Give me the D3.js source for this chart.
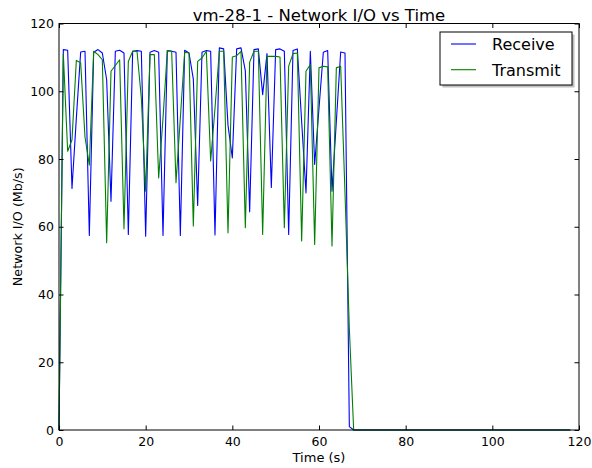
<!DOCTYPE html>
<html>
<head>
<meta charset="utf-8">
<script src="https://cdn.jsdelivr.net/npm/d3@7/dist/d3.min.js"></script>
<style>
  body { margin: 0; background: #fff; overflow: hidden; }
  svg { display: block; }
  svg text { font-family: "DejaVu Sans", sans-serif; fill: #000; }
</style>
</head>
<body>
<svg id="chart"></svg>
<script>
// Network I/O samples, one per second (Mb/s)
const receive = [
  0, 112.3, 112.1, 71.3, 92, 111.6, 111.8, 57.4, 111.5, 112.3,
  111.3, 103.4, 67.5, 111.8, 112.1, 111.3, 57.7, 111.8, 112, 111.8,
  57.2, 111.5, 112, 111.5, 57.4, 112, 111.8, 111.5, 57.4, 112.1,
  111.3, 103.6, 66.3, 111.5, 112, 111.8, 57.6, 112.8, 112.5, 90,
  80.3, 112.5, 112.8, 106, 64.4, 112.3, 112.5, 99, 111.1, 71.6,
  112.3, 112.5, 111.8, 57.7, 112, 112.5, 91, 70, 111.8, 78.4,
  95, 111.5, 112, 70.5, 91, 111.6, 111.3, 1, 0, 0,
  0, 0, 0, 0, 0, 0, 0, 0, 0, 0,
  0, 0, 0, 0, 0, 0, 0, 0, 0, 0,
  0, 0, 0, 0, 0, 0, 0, 0, 0, 0,
  0, 0, 0, 0, 0, 0, 0, 0, 0, 0,
  0, 0, 0, 0, 0, 0, 0, 0, 0
];

const transmit = [
  0, 111, 82.3, 85.7, 109.1, 108.4, 86.5, 78.2, 111.8, 110.8,
  109.3, 55.3, 105.9, 107.6, 109.3, 59.4, 108.8, 111.8, 111.8, 98,
  70.5, 110.8, 110.8, 74.4, 92, 112, 111.8, 73, 92, 111.5,
  111.3, 60.2, 108.8, 109.8, 111.8, 79.4, 95, 111.8, 111.8, 58.2,
  110.1, 110.5, 111.8, 59.7, 108.6, 111.8, 111.8, 57.7, 110.3, 110.3,
  110.3, 110.1, 59.7, 107.4, 111.1, 111.3, 55.8, 105.9, 107.9, 54.8,
  106.9, 107.4, 107.2, 54.3, 106.9, 107.4, 70, 30, 0, 0,
  0, 0, 0, 0, 0, 0, 0, 0, 0, 0,
  0, 0, 0, 0, 0, 0, 0, 0, 0, 0,
  0, 0, 0, 0, 0, 0, 0, 0, 0, 0,
  0, 0, 0, 0, 0, 0, 0, 0, 0, 0,
  0, 0, 0, 0, 0, 0, 0, 0, 0
];

const xTicks = [0, 20, 40, 60, 80, 100, 120];
const yTicks = [0, 20, 40, 60, 80, 100, 120];
const seriesNames = ['Receive', 'Transmit'];
const seriesColors = ['#0000ff', '#008000'];

const width = 592;
const height = 468;
const margin = { top: 23.5, right: 13, bottom: 38, left: 59 };
const innerWidth = width - margin.left - margin.right;
const innerHeight = height - margin.top - margin.bottom;

const svg = d3.select('#chart')
  .attr('width', width)
  .attr('height', height);

svg.append('rect')
  .attr('width', width)
  .attr('height', height)
  .attr('fill', '#fff');

const chart = svg.append('g')
  .attr('transform', `translate(${margin.left}, ${margin.top})`);

// Scales
const xScale = d3.scaleLinear().domain([0, 120]).range([0, innerWidth]);
const yScale = d3.scaleLinear().domain([0, 120]).range([innerHeight, 0]);

// Lines
const line = d3.line()
  .x((d, i) => xScale(i))
  .y(d => yScale(d));

[receive, transmit].forEach((values, k) => {
  chart.append('path')
    .datum(values)
    .attr('fill', 'none')
    .attr('stroke', seriesColors[k])
    .attr('stroke-width', 1.1)
    .attr('stroke-linejoin', 'round')
    .attr('d', line);
});

// Axes, ticks pointing inward on all four sides (classic matplotlib look)
const tickLen = -4.5;

const styleAxis = g => {
  g.selectAll('.domain').remove();
  g.selectAll('.tick line').attr('stroke', '#000').attr('stroke-width', 1);
  g.selectAll('text').style('font-size', '12.5px').attr('fill', '#000');
};

const noLabels = g => {
  styleAxis(g);
  g.selectAll('text').remove();
};

chart.append('g')
  .attr('transform', `translate(0, ${innerHeight})`)
  .call(d3.axisBottom(xScale).tickValues(xTicks).tickSizeInner(tickLen).tickSizeOuter(0).tickPadding(7))
  .call(styleAxis);

chart.append('g')
  .call(d3.axisTop(xScale).tickValues(xTicks).tickSizeInner(tickLen).tickSizeOuter(0))
  .call(noLabels);

chart.append('g')
  .call(d3.axisLeft(yScale).tickValues(yTicks).tickSizeInner(tickLen).tickSizeOuter(0).tickPadding(5))
  .call(styleAxis);

chart.append('g')
  .attr('transform', `translate(${innerWidth}, 0)`)
  .call(d3.axisRight(yScale).tickValues(yTicks).tickSizeInner(tickLen).tickSizeOuter(0))
  .call(noLabels);

// Frame
chart.append('rect')
  .attr('width', innerWidth)
  .attr('height', innerHeight)
  .attr('fill', 'none')
  .attr('stroke', '#000')
  .attr('stroke-width', 1);

// Title
svg.append('text')
  .attr('x', margin.left + innerWidth / 2)
  .attr('y', 20.5)
  .attr('text-anchor', 'middle')
  .style('font-size', '16.5px')
  .text('vm-28-1 - Network I/O vs Time');

// Axis labels
svg.append('text')
  .attr('x', margin.left + innerWidth / 2)
  .attr('y', 462)
  .attr('text-anchor', 'middle')
  .style('font-size', '13px')
  .text('Time (s)');

svg.append('text')
  .attr('transform', `translate(22, ${margin.top + innerHeight / 2}) rotate(-90)`)
  .attr('text-anchor', 'middle')
  .style('font-size', '12.7px')
  .text('Network I/O (Mb/s)');

// Legend with drop shadow
const legend = chart.append('g')
  .attr('transform', `translate(${innerWidth - 139}, 8.5)`);

legend.append('rect')
  .attr('x', 2.5)
  .attr('y', 2.5)
  .attr('width', 132)
  .attr('height', 53)
  .attr('fill', '#808080')
  .attr('opacity', 0.5);

legend.append('rect')
  .attr('width', 132)
  .attr('height', 53)
  .attr('fill', '#fff')
  .attr('stroke', '#000')
  .attr('stroke-width', 1);

const legendItems = legend.selectAll('.legend-item')
  .data(seriesNames)
  .enter()
  .append('g')
  .attr('class', 'legend-item')
  .attr('transform', (d, i) => `translate(0, ${12 + i * 25.7})`);

legendItems.append('line')
  .attr('x1', 11)
  .attr('x2', 36)
  .attr('stroke', (d, i) => seriesColors[i])
  .attr('stroke-width', 1.1);

legendItems.append('text')
  .attr('x', 52)
  .attr('y', 6)
  .style('font-size', '16px')
  .text(d => d);
</script>
</body>
</html>
